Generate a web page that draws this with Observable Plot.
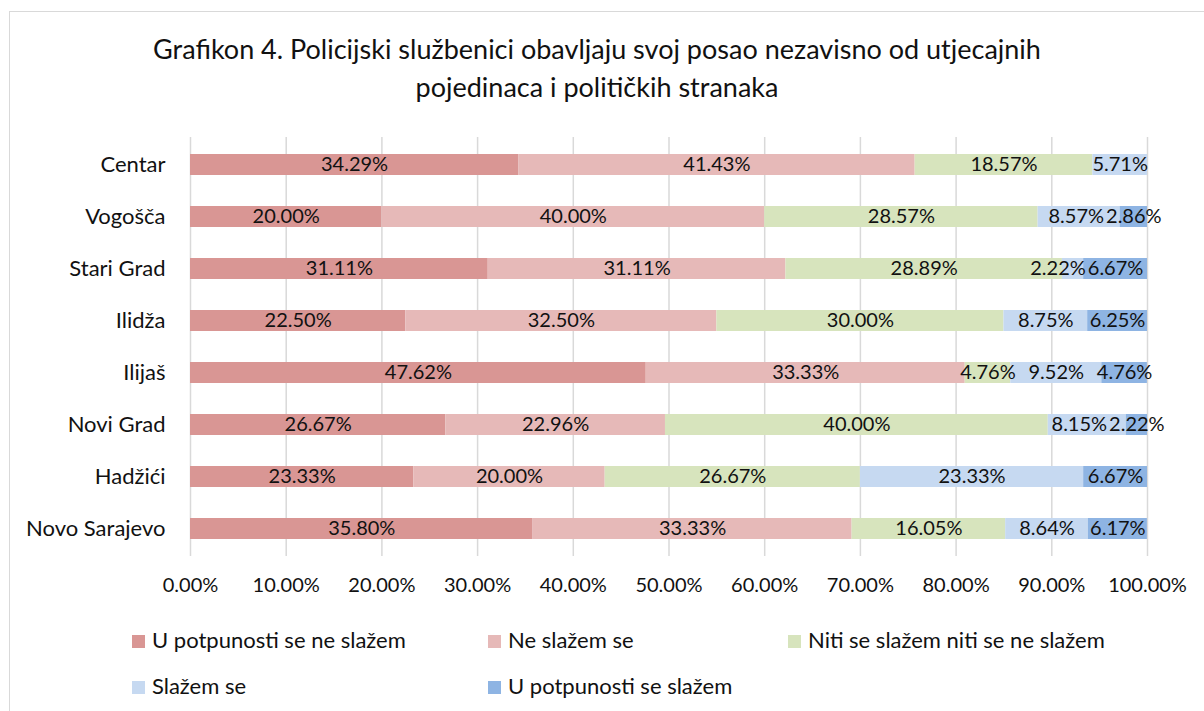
<!DOCTYPE html>
<html><head><meta charset="utf-8">
<script src="https://cdn.jsdelivr.net/npm/d3@7"></script>
<script src="https://cdn.jsdelivr.net/npm/@observablehq/plot@0.6"></script>
<style>
body{margin:0;background:#fff;font-family:Lato, sans-serif;width:1204px;height:711px;overflow:hidden;position:relative;}
#frame{position:absolute;left:9px;top:11px;width:1210px;height:720px;border:1px solid #d9d9d9;}
#title{position:absolute;left:0;top:30px;width:1194px;text-align:center;font-size:27px;line-height:38px;color:#111;}
#chart{position:absolute;left:0;top:120px;}
.leg{position:absolute;font-size:22px;color:#111;white-space:nowrap;line-height:26px;}
.sw{display:inline-block;width:13px;height:13px;margin-right:7px;vertical-align:0px;}
</style></head>
<body>
<div id="frame"></div>
<div id="title">Grafikon 4. Policijski službenici obavljaju svoj posao nezavisno od utjecajnih<br>pojedinaca i političkih stranaka</div>
<div id="chart"></div>
<div id="legend"></div>
<script>
const cities = ["Centar","Vogošča","Stari Grad","Ilidža","Ilijaš","Novi Grad","Hadžići","Novo Sarajevo"];
const categories = ["U potpunosti se ne slažem","Ne slažem se","Niti se slažem niti se ne slažem","Slažem se","U potpunosti se slažem"];
const colors = ["#D99694","#E6B9B8","#D7E4BD","#C6D9F1","#8EB4E3"];
const fullyDisagree = [34.29,20.00,31.11,22.50,47.62,26.67,23.33,35.80];
const disagree      = [41.43,40.00,31.11,32.50,33.33,22.96,20.00,33.33];
const neutral       = [18.57,28.57,28.89,30.00,4.76,40.00,26.67,16.05];
const agree         = [5.71,8.57,2.22,8.75,9.52,8.15,23.33,8.64];
const fullyAgree    = [0,2.86,6.67,6.25,4.76,2.22,6.67,6.17];
const tickValues = [0,10,20,30,40,50,60,70,80,90,100];

const W = 1204, ML = 190, MR = 57;
const pxPerUnit = (W - ML - MR) / 100;
const labelFont = "20px Lato";
const fmt = v => v.toFixed(2) + "%";

const series = [fullyDisagree, disagree, neutral, agree, fullyAgree];
const data = [];
const labels = [];
const ctx = document.createElement("canvas").getContext("2d");
ctx.font = labelFont;
cities.forEach((city, i) => {
  let cum = 0;
  const row = [];
  categories.forEach((cat, j) => {
    const v = series[j][i];
    data.push({city, cat, value: v});
    if (v > 0) row.push({city, cat, value: v, text: fmt(v), mid: cum + v / 2, w: ctx.measureText(fmt(v)).width / pxPerUnit});
    cum += v;
  });
  // simple overlap avoidance: push labels left when they collide with the next one
  const gap = 2 / pxPerUnit;
  for (let k = row.length - 2; k >= 0; k--) {
    const nextLeft = row[k + 1].mid - row[k + 1].w / 2;
    const right = row[k].mid + row[k].w / 2;
    if (right > nextLeft - gap) row[k].mid -= right - (nextLeft - gap);
  }
  labels.push(...row);
});

const chart = Plot.plot({
  width: W, height: 486,
  marginLeft: ML, marginRight: MR, marginTop: 17, marginBottom: 50,
  style: {fontFamily: "Lato, sans-serif", fontSize: "20px", color: "#111", background: "transparent"},
  x: {domain: [0, 100], label: null},
  y: {domain: cities, label: null, paddingInner: 0.6, paddingOuter: 0.3},
  color: {domain: categories, range: colors},
  marks: [
    Plot.gridX(tickValues, {stroke: "#d9d9d9", strokeOpacity: 1, strokeWidth: 1.5}),
    Plot.barX(data, {x: "value", y: "city", fill: "cat"}),
    Plot.text(labels, {x: "mid", y: "city", text: "text", fontSize: 20, fill: "#111"}),
    Plot.axisX(tickValues, {tickFormat: fmt, tickSize: 0, tickPadding: 21, fontSize: 20, label: null}),
    Plot.axisY({tickSize: 0, tickPadding: 25, fontSize: 22, label: null})
  ]
});
document.getElementById("chart").appendChild(chart);

const legPos = [[132, 640],[488, 640],[788, 640],[132, 686],[488, 686]];
const leg = document.getElementById("legend");
categories.forEach((c, i) => {
  const d = document.createElement("div");
  d.className = "leg";
  d.style.left = legPos[i][0] + "px";
  d.style.top = (legPos[i][1] - 13) + "px";
  d.innerHTML = `<span class="sw" style="background:${colors[i]}"></span>${c}`;
  leg.appendChild(d);
});
</script>
</body></html>
